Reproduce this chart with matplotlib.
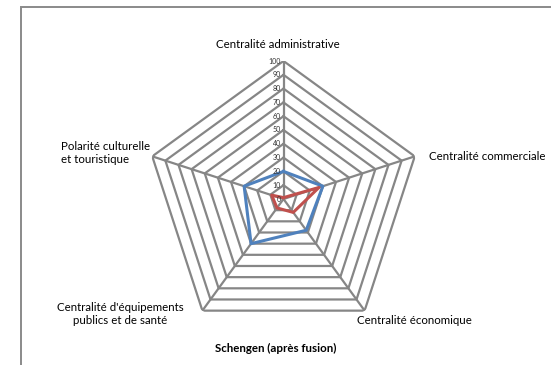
import numpy as np
import matplotlib
matplotlib.use("Agg")
import matplotlib.pyplot as plt
from matplotlib.patches import Rectangle

# axes of the radar, clockwise from the top
categories = ["Centralité administrative", "Centralité commerciale",
              "Centralité économique", "Centralité d'équipements\npublics et de santé",
              "Polarité culturelle\net touristique"]
blue_values = [20, 30, 28, 40, 30]
red_values = [1, 27, 12, 8, 9]
ring_values = [0, 10, 20, 30, 40, 50, 60, 70, 80, 90, 100]
title = "Schengen (après fusion)"

plt.rcParams['font.family'] = ['Lato', 'DejaVu Sans']

W, H = 551, 365
fig = plt.figure(figsize=(W / 100, H / 100), dpi=100)

# outer chart frame
fig.patches.append(Rectangle((21 / W, -0.1), 1.2, 1 - 7 / H + 0.1, transform=fig.transFigure,
                             fill=False, edgecolor='#8a8a8a', linewidth=1.4))

cx, cy, R = 283.5, 199, 138
ax = fig.add_axes([(cx - R) / W, (H - cy - R) / H, 2 * R / W, 2 * R / H], projection='polar')
ax.set_theta_offset(np.pi / 2)
ax.set_theta_direction(-1)
ax.set_ylim(0, 100)
ax.set_xticks([])
ax.set_yticks([])
ax.grid(False)
ax.spines['polar'].set_visible(False)
ax.patch.set_alpha(0)

n = len(categories)
angles = np.linspace(0, 2 * np.pi, n, endpoint=False)
closed = np.concatenate([angles, angles[:1]])

grid_col = '#868686'
for r in ring_values[1:]:
    ax.plot(closed, [r] * (n + 1), color=grid_col, lw=1.6, solid_joinstyle='miter')
for a in angles:
    ax.plot([a, a], [0, 100], color=grid_col, lw=1.6)

for r in ring_values:
    ax.annotate(str(r), (0, r), xytext=(-2, 0), textcoords='offset points',
                ha='right', va='center', fontsize=5, color='#333333')

ax.plot(closed, blue_values + blue_values[:1], color='#4F81BD', lw=2.2)
ax.plot(closed, red_values + red_values[:1], color='#C0504D', lw=2.2)

# category labels
fs = 8.3
fig.text(278 / W, 1 - 44 / H, categories[0], ha='center', va='center', fontsize=fs)
fig.text(429 / W, 1 - 157 / H, categories[1], ha='left', va='center', fontsize=fs)
fig.text(414 / W, 1 - 321 / H, categories[2], ha='center', va='center', fontsize=fs)
fig.text(120 / W, 1 - 314 / H, categories[3], ha='center', va='center', fontsize=fs,
         linespacing=1.3)
fig.text(61 / W, 1 - 153 / H, categories[4], ha='left', va='center', fontsize=fs,
         linespacing=1.3)
fig.text(276 / W, 1 - 348 / H, title, ha='center', va='center', fontsize=fs,
         fontweight='bold')

fig.savefig("out.png", dpi=100)
